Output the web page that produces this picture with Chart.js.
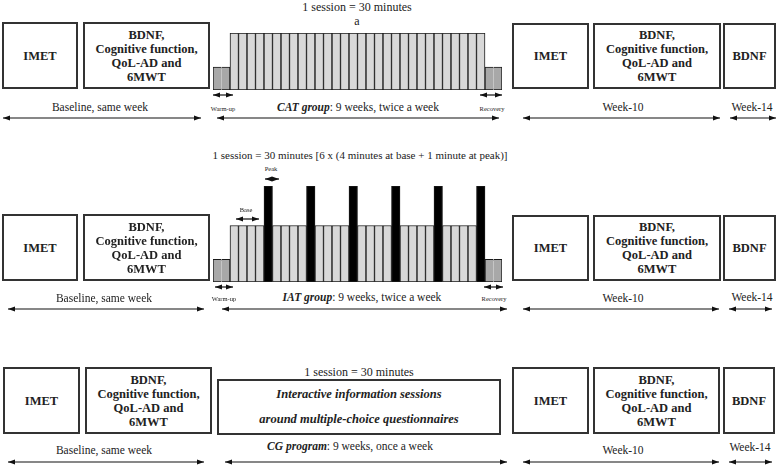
<!DOCTYPE html>
<html>
<head>
<meta charset="utf-8">
<script src="https://cdn.jsdelivr.net/npm/chart.js@4.4.1/dist/chart.umd.min.js"></script>
<style>
body { margin: 0; background: #fff; }
#page { position: relative; width: 778px; height: 466px; overflow: hidden;
        font-family: "Liberation Serif", "Times New Roman", Tinos, "DejaVu Serif", serif; color: #222; }
.box { position: absolute; box-sizing: border-box; border: 2px solid #333;
       display: flex; flex-direction: column; align-items: center; justify-content: center;
       text-align: center; font-weight: bold; font-size: 12.5px; line-height: 14px; }
.lbl { position: absolute; transform: translate(-50%, -50%); white-space: nowrap; font-size: 11.5px; }
.head { font-size: 12px; }
.long { font-size: 11px; }
.small { font-size: 6.5px; }
.profile { position: absolute; }
#arrows { position: absolute; left: 0; top: 0; }
</style>
</head>
<body>
<div id="page">
  <svg id="arrows" width="778" height="466">
    <defs>
      <marker id="ah" viewBox="0 0 10 10" refX="10" refY="5" markerWidth="7" markerHeight="7"
              markerUnits="userSpaceOnUse" orient="auto-start-reverse">
        <path d="M0,1.5 L10,5 L0,8.5 z" fill="#111"/>
      </marker>
    </defs>
  </svg>
  <div class="profile" style="left:213px; top:33px; width:289px; height:57px;"><canvas id="catChart"></canvas></div>
  <div class="profile" style="left:213px; top:186px; width:289px; height:96px;"><canvas id="iatChart"></canvas></div>
</div>
<script>
// session profile, one slot per minute (warm-up and recovery take two slots each)
const slotLabels = ['W1', 'W2',
    '1', '2', '3', '4', '5', '6', '7', '8', '9', '10',
    '11', '12', '13', '14', '15', '16', '17', '18', '19', '20',
    '21', '22', '23', '24', '25', '26', '27', '28', '29', '30',
    'R1', 'R2'];
const warmUp = [2, 2];
const recovery = [2, 2];
const catMinutes = [5, 5, 5, 5, 5, 5, 5, 5, 5, 5,
                    5, 5, 5, 5, 5, 5, 5, 5, 5, 5,
                    5, 5, 5, 5, 5, 5, 5, 5, 5, 5];
const iatMinutes = [5, 5, 5, 5, 8.5, 5, 5, 5, 5, 8.5,
                    5, 5, 5, 5, 8.5, 5, 5, 5, 5, 8.5,
                    5, 5, 5, 5, 8.5, 5, 5, 5, 5, 8.5];

const warmColor = '#a8a8a8';
const baseColor = '#d8d8d8';
const peakColor = '#000000';
const peakLevel = Math.max(...iatMinutes);

function makeProfile(canvasId, minutes, maxY) {
    const values = [...warmUp, ...minutes, ...recovery];
    const last = values.length - 1;
    return new Chart(document.getElementById(canvasId), {
        type: 'bar',
        data: {
            labels: slotLabels,
            datasets: [{
                data: values,
                backgroundColor: function (ctx) {
                    const i = ctx.dataIndex;
                    if (i < 2 || i > last - 2) return warmColor;
                    return ctx.raw >= peakLevel ? peakColor : baseColor;
                },
                borderColor: '#1a1a1a',
                borderWidth: function (ctx) {
                    const i = ctx.dataIndex;
                    // warm-up / recovery drawn as one block over two slots
                    if (i === 0 || i === last - 1) return { top: 1, bottom: 1, left: 1, right: 0 };
                    if (i === 1 || i === last) return { top: 1, bottom: 1, left: 0, right: 1 };
                    return 1;
                },
                borderSkipped: false,
                barPercentage: 1,
                categoryPercentage: 1
            }]
        },
        options: {
            responsive: true,
            maintainAspectRatio: false,
            animation: false,
            layout: { padding: 0 },
            plugins: { legend: { display: false }, tooltip: { enabled: false } },
            scales: {
                x: { display: false, grid: { display: false } },
                y: { display: false, min: 0, max: maxY, grid: { display: false } }
            }
        }
    });
}

makeProfile('catChart', catMinutes, 5);
makeProfile('iatChart', iatMinutes, peakLevel);

// ---- surrounding diagram: boxes, labels, arrows ----
const page = document.getElementById('page');
const svg = document.getElementById('arrows');

function box(x1, y1, x2, y2, html, extra) {
    const d = document.createElement('div');
    d.className = 'box';
    d.style.left = x1 + 'px';
    d.style.top = y1 + 'px';
    d.style.width = (x2 - x1) + 'px';
    d.style.height = (y2 - y1) + 'px';
    if (extra) Object.assign(d.style, extra);
    d.innerHTML = html;
    page.appendChild(d);
}

function label(cx, cy, html, cls) {
    const d = document.createElement('div');
    d.className = 'lbl' + (cls ? ' ' + cls : '');
    d.style.left = cx + 'px';
    d.style.top = cy + 'px';
    d.innerHTML = html;
    page.appendChild(d);
}

function arrow(x1, x2, y) {
    const l = document.createElementNS('http://www.w3.org/2000/svg', 'line');
    l.setAttribute('x1', x1);
    l.setAttribute('x2', x2);
    l.setAttribute('y1', y);
    l.setAttribute('y2', y);
    l.setAttribute('stroke', '#111');
    l.setAttribute('stroke-width', '1.2');
    l.setAttribute('marker-start', 'url(#ah)');
    l.setAttribute('marker-end', 'url(#ah)');
    svg.appendChild(l);
}

const measures = 'BDNF,<br>Cognitive function,<br>QoL-AD and<br>6MWT';

// row 1 - CAT
label(357, 7, '1 session = 30 minutes', 'head');
label(357, 21, 'a', 'head');
box(2, 22, 78, 89, 'IMET');
box(83, 22, 210, 89, measures);
box(512, 23, 589, 89, 'IMET');
box(593, 23, 721, 89, measures);
box(723, 23, 776, 89, 'BDNF');
arrow(213, 233, 95); arrow(480, 502, 95);
label(223, 108, 'Warm-up', 'small'); label(492, 108, 'Recovery', 'small');
label(100, 107, 'Baseline, same week');
label(358, 107, '<b><i>CAT group</i></b>: 9 weeks, twice a week');
label(623, 107, 'Week-10');
label(752, 107, 'Week-14');
arrow(3, 201, 118); arrow(217, 499, 118); arrow(523, 720, 118); arrow(730, 776, 118);

// row 2 - IAT
label(360, 155, '1 session = 30 minutes [6 x (4 minutes at base + 1 minute at peak)]', 'long');
label(271, 168, 'Peak', 'small'); arrow(265, 279, 179);
label(246, 209, 'Base', 'small'); arrow(236, 259, 219);
box(2, 214, 78, 281, 'IMET');
box(83, 214, 210, 281, measures);
box(512, 215, 589, 281, 'IMET');
box(593, 215, 721, 281, measures);
box(723, 215, 776, 281, 'BDNF');
arrow(215, 233, 287); arrow(484, 503, 287);
label(224, 298, 'Warm-up', 'small'); label(494, 298, 'Recovery', 'small');
label(104, 298, 'Baseline, same week');
label(362, 297, '<b><i>IAT group</i></b>: 9 weeks, twice a week');
label(623, 298, 'Week-10');
label(752, 297, 'Week-14');
arrow(8, 204, 309); arrow(222, 507, 309); arrow(523, 719, 309); arrow(729, 772, 309);

// row 3 - CG
label(359, 372, '1 session = 30 minutes', 'head');
box(3, 367, 80, 434, 'IMET');
box(85, 367, 212, 434, measures);
box(217, 379, 501, 435, '<i>Interactive information sessions</i><i>around multiple-choice questionnaires</i>',
    { lineHeight: '25px' });
box(512, 367, 589, 434, 'IMET');
box(593, 367, 720, 434, measures);
box(723, 367, 775, 434, 'BDNF');
label(104, 450, 'Baseline, same week');
label(350, 446, '<b><i>CG program</i></b>: 9 weeks, once a week');
label(623, 450, 'Week-10');
label(750, 447, 'Week-14');
arrow(8, 204, 462); arrow(225, 507, 462); arrow(523, 719, 462); arrow(729, 772, 462);
</script>
</body>
</html>
